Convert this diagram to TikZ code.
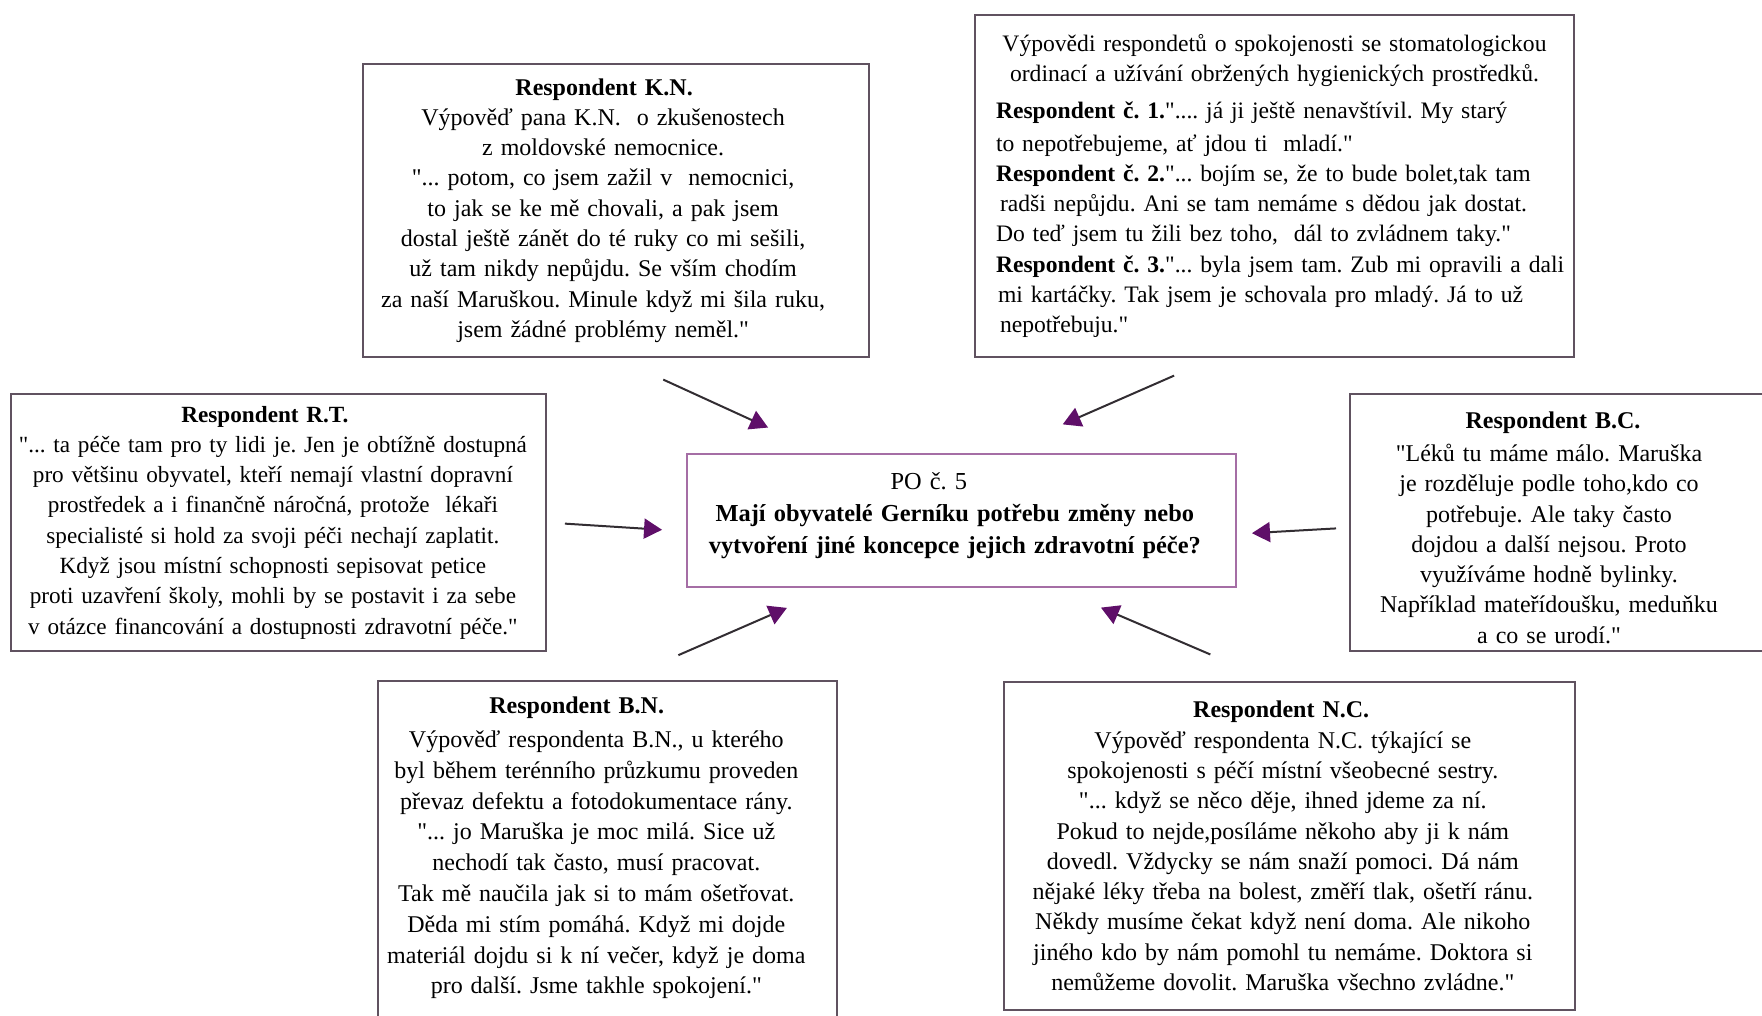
\documentclass[tikz,border=0pt]{standalone}
\usepackage{fontspec}
\newfontfamily\respfont{Liberation Serif}
\usetikzlibrary{arrows.meta, calc}
\definecolor{boxline}{RGB}{96,82,96}
\definecolor{qline}{RGB}{165,110,165}
\definecolor{tipfill}{RGB}{95,15,105}
\definecolor{arrline}{RGB}{50,45,50}
\tikzset{
  respbox/.style={
    draw=boxline,
    line width=1pt,
    align=center,
    font=\respfont\fontsize{12}{15.15}\selectfont\frenchspacing,
    inner sep=2pt,
  },
  % centre question box
  qbox/.style={respbox, draw=qline, font=\respfont\fontsize{12.2}{16}\selectfont\frenchspacing},
  qarr/.style={-{Triangle[length=9pt, width=10pt, color=tipfill]}, line width=1pt, draw=arrline},
}
% centred lines, moved left by half of #1
\newcommand{\leftnudge}[1]{\centering\parindent=0pt\rightskip=#1 plus 1fil\relax}

\begin{document}
\begin{tikzpicture}[x=0.5pt, y=-0.5pt]
  \useasboundingbox (0,0) rectangle (1762,1016);

  \node[qbox, minimum width=274.5pt, minimum height=66.5pt, text width=270.5pt] (po) at (961.5,520.5) {%
    \leftnudge{6.7pt}
    PO č. 5\hspace*{30pt}\mbox{}\\
    \textbf{Mají obyvatelé Gerníku potřebu změny nebo}\\
    \textbf{vytvoření jiné koncepce jejich zdravotní péče?}\par
    \vspace{5pt}\hrule height 0pt};

  \node[respbox, minimum width=253pt, minimum height=146.5pt, text width=249pt] (kn) at (616,210.5) {%
    \leftnudge{12.9pt}
    \textbf{Respondent K.N.}\hspace*{3pt}\mbox{}\\
    Výpověď pana K.N.~ o zkušenostech\\
    z moldovské nemocnice.\\
    "... potom, co jsem zažil v~ nemocnici,\\
    to jak se ke mě chovali, a pak jsem\\
    dostal ještě zánět do té ruky co mi sešili,\\
    už tam nikdy nepůjdu. Se vším chodím\\
    za naší Maruškou. Minule když mi šila ruku,\\
    jsem žádné problémy neměl."\par};

  \node[respbox, minimum width=299.5pt, minimum height=171pt, inner xsep=10.5pt,
        text width=278.5pt, align=left,
        font=\respfont\fontsize{11.8}{15.15}\selectfont\frenchspacing] (stom) at (1274.5,186) {%
    {\centering \mbox{Výpovědi respondetů o spokojenosti se stomatologickou}\\
    ordinací a užívání obržených hygienických prostředků.\par}\vspace{3.5pt}
    \textbf{Respondent č. 1.}".... já ji ještě nenavštívil. My starý\\[1pt]
    to nepotřebujeme, ať jdou ti~ mladí."\\
    \mbox{\textbf{Respondent č. 2.}"... bojím se, že to bude bolet,tak tam}\\
    \mbox{\hspace*{2pt}radši nepůjdu. Ani se tam nemáme s dědou jak dostat.}\\
    Do teď jsem tu žili bez toho,~ dál to zvládnem taky."\\
    \mbox{\textbf{Respondent č. 3.}"... byla jsem tam. Zub mi opravili a dali}\\
    \mbox{\hspace*{1pt}mi kartáčky. Tak jsem je schovala pro mladý. Já to už}\\
    \hspace*{2pt}nepotřebuju."\par};

  \node[respbox, minimum width=267.5pt, minimum height=128.5pt, inner xsep=0pt, text width=267.5pt,
        font=\respfont\fontsize{11.6}{15.15}\selectfont\frenchspacing] (rt) at (278.5,522.5) {%
    \leftnudge{5.6pt}
    \textbf{Respondent R.T.}\hspace*{11.8pt}\mbox{}\\
    \mbox{"... ta péče tam pro ty lidi je. Jen je obtížně dostupná}\\
    pro většinu obyvatel, kteří nemají vlastní dopravní\\
    prostředek a i finančně náročná, protože~ lékaři\\
    specialisté si hold za svoji péči nechají zaplatit.\\
    Když jsou místní schopnosti sepisovat petice\\
    proti uzavření školy, mohli by se postavit i za sebe\\
    v otázce financování a dostupnosti zdravotní péče."\par};

  \node[respbox, minimum width=208pt, minimum height=128.5pt, text width=204pt] (bc) at (1558,522.5) {%
    \leftnudge{9pt}
    \textbf{Respondent B.C.}\\[1.5pt]
    "Léků tu máme málo. Maruška\\
    je rozděluje podle toho,kdo co\\
    potřebuje. Ale taky často\\
    dojdou a další nejsou. Proto\\
    využíváme hodně bylinky.\\
    Například mateřídoušku, meduňku\\
    a co se urodí."\par
    \vspace{-5pt}\hrule height 0pt};

  \node[respbox, minimum width=229.5pt, inner ysep=8pt, text width=225.5pt, anchor=north,
        font=\respfont\fontsize{12}{15.4}\selectfont\frenchspacing] (bn) at (607.5,680) {%
    \leftnudge{11.2pt}
    \textbf{Respondent B.N.}\hspace*{23.6pt}\mbox{}\\[1.5pt]
    Výpověď respondenta B.N., u kterého\\
    byl během terénního průzkumu proveden\\
    převaz defektu a fotodokumentace rány.\\
    "... jo Maruška je moc milá. Sice už\\
    nechodí tak často, musí pracovat.\\
    Tak mě naučila jak si to mám ošetřovat.\\
    Děda mi stím pomáhá. Když mi dojde\\
    materiál dojdu si k ní večer, když je doma\\
    pro další. Jsme takhle spokojení."\\
    \mbox{}\par};

  \node[respbox, minimum width=285.5pt, minimum height=164pt, text width=281.5pt] (nc) at (1289.5,846) {%
    \leftnudge{6.7pt}
    \textbf{Respondent N.C.}\hspace*{5.6pt}\mbox{}\\
    Výpověď respondenta N.C. týkající se\\
    spokojenosti s péčí místní všeobecné sestry.\\
    "... když se něco děje, ihned jdeme za ní.\\
    Pokud to nejde,posíláme někoho aby ji k nám\\
    dovedl. Vždycky se nám snaží pomoci. Dá nám\\
    nějaké léky třeba na bolest, změří tlak, ošetří ránu.\\
    Někdy musíme čekat když není doma. Ale nikoho\\
    jiného kdo by nám pomohl tu nemáme. Doktora si\\
    nemůžeme dovolit. Maruška všechno zvládne."\par};

  % arrows into the question box
  \draw[qarr, shorten <=26pt, shorten >=30.6pt] (kn.south) -- ($(po.north west)!0.25!(po.north east)$);
  \draw[qarr, shorten <=22pt, shorten >=35.7pt] ($(stom.south west)!0.4!(stom.south east)$) -- ($(po.north west)!0.565!(po.north east)$);
  \draw[qarr, shorten <=9pt, shorten >=12pt] (rt.east) -- ($(po.north west)!0.58!(po.south west)$);
  \draw[qarr, shorten <=6.5pt, shorten >=7.5pt] ($(bc.north west)!0.52!(bc.south west)$) -- ($(po.north east)!0.6!(po.south east)$);
  \draw[qarr, shorten <=31.1pt, shorten >=24.9pt] ($(bn.north west)!0.53!(bn.north east)$) -- ($(po.south west)!0.266!(po.south east)$);
  \draw[qarr, shorten <=33.7pt, shorten >=24.9pt] ($(nc.north west)!0.47!(nc.north east)$) -- ($(po.south west)!0.67!(po.south east)$);
\end{tikzpicture}
\end{document}
